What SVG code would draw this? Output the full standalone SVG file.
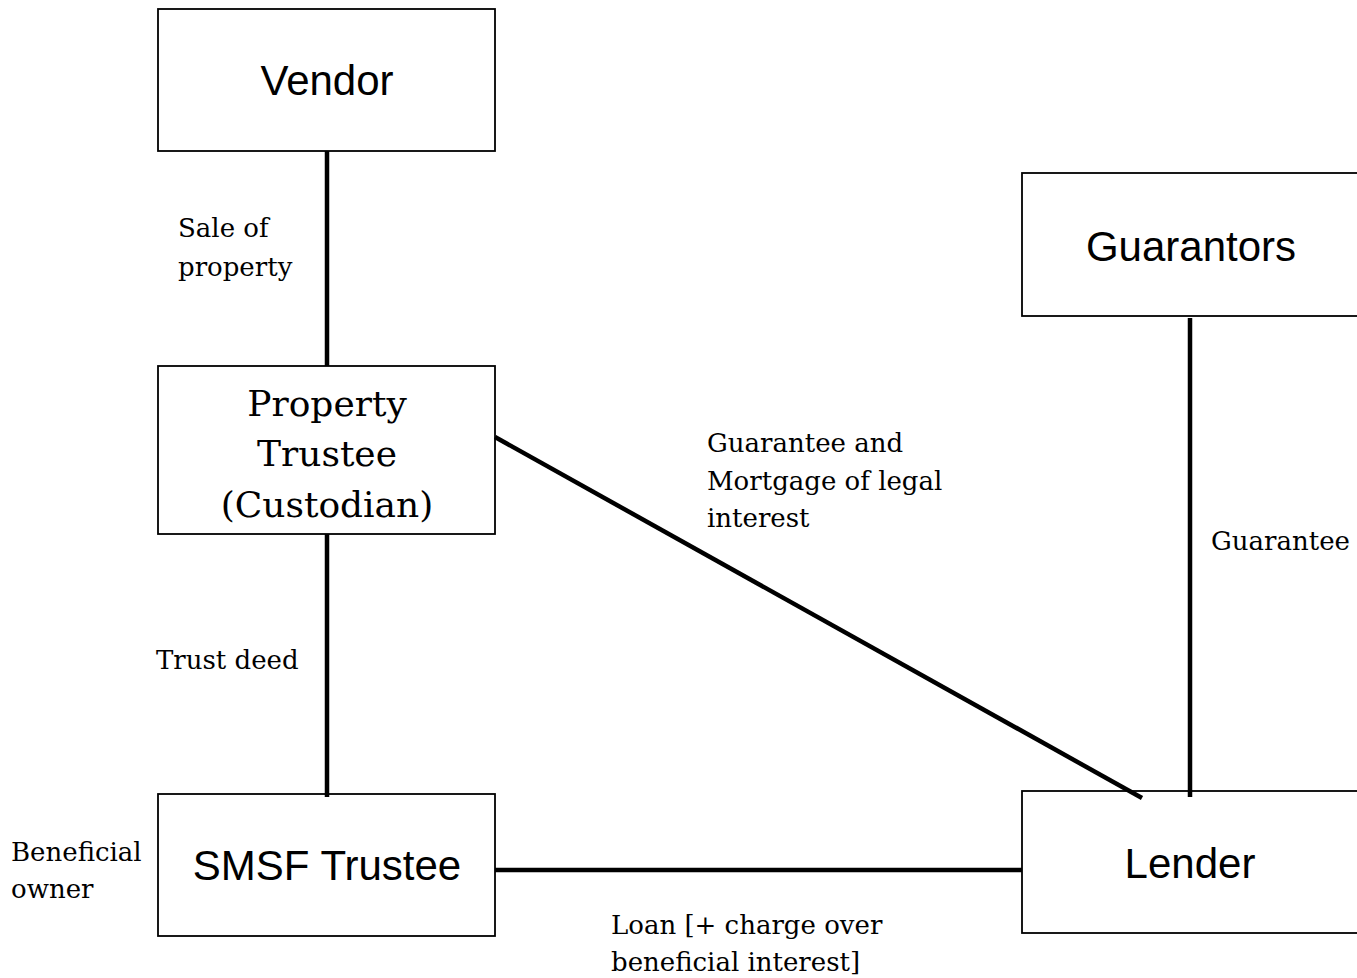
<svg xmlns="http://www.w3.org/2000/svg" width="1357" height="978" viewBox="0 0 1357 978">
<style>
.box{fill:#fff;stroke:#000;stroke-width:1.8}
.sans{font-family:"Liberation Sans",Arial,sans-serif;font-size:42px;fill:#000;text-anchor:middle}
.serifL{font-family:"DejaVu Serif","Liberation Serif",serif;font-size:36px;fill:#000;text-anchor:middle}
.lbl{font-family:"DejaVu Serif","Liberation Serif",serif;font-size:26px;fill:#000}
.conn{stroke:#000;stroke-width:4.5;fill:none}
</style>
<rect width="1357" height="978" fill="#fff"/>
<g id="vendor">
<rect class="box" x="158" y="9" width="337" height="142"/>
<text class="sans" x="327" y="95">Vendor</text>
</g>
<g id="property-trustee">
<rect class="box" x="158" y="366" width="337" height="168"/>
<text class="serifL" x="327" y="416">Property</text>
<text class="serifL" x="327" y="466">Trustee</text>
<text class="serifL" x="327" y="517">(Custodian)</text>
</g>
<g id="smsf-trustee">
<rect class="box" x="158" y="794" width="337" height="142"/>
<text class="sans" x="327" y="880">SMSF Trustee</text>
<text class="lbl" x="11" y="861">Beneficial</text>
<text class="lbl" x="11" y="898">owner</text>
</g>
<g id="guarantors">
<rect class="box" x="1022" y="173" width="345" height="143"/>
<text class="sans" x="1191" y="261">Guarantors</text>
</g>
<g id="lender">
<rect class="box" x="1022" y="791" width="345" height="142"/>
<text class="sans" x="1190" y="878">Lender</text>
</g>
<g id="connectors">
<line class="conn" x1="327" y1="151" x2="327" y2="366"/>
<line class="conn" x1="327" y1="534" x2="327" y2="797"/>
<line class="conn" x1="495" y1="437" x2="1142" y2="798"/>
<line class="conn" x1="1190" y1="318" x2="1190" y2="797"/>
<line class="conn" x1="495" y1="870" x2="1022" y2="870"/>
<text class="lbl" x="178" y="237">Sale of</text>
<text class="lbl" x="178" y="276">property</text>
<text class="lbl" x="156" y="669">Trust deed</text>
<text class="lbl" x="707" y="452">Guarantee and</text>
<text class="lbl" x="707" y="490">Mortgage of legal</text>
<text class="lbl" x="707" y="527">interest</text>
<text class="lbl" x="1211" y="550">Guarantee</text>
<text class="lbl" x="611" y="934">Loan [+ charge over</text>
<text class="lbl" x="611" y="971">beneficial interest]</text>
</g>
</svg>
